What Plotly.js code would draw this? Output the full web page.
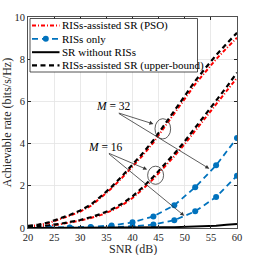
<!DOCTYPE html>
<html>
<head>
<meta charset="utf-8">
<script src="https://cdn.plot.ly/plotly-3.0.1.min.js"></script>
<style>html,body{margin:0;padding:0;background:#fff;}#chart{width:255px;height:255px;}</style>
</head>
<body>
<div id="chart"></div>
<script>
// SNR grids (dB)
var snr = [20,22,24,26,28,30,32,34,36,38,40,42,44,46,48,50,52,54,56,58,60];
var snr4 = [20,24,28,32,36,40,44,48,52,56,60];

// RISs-assisted SR (PSO)
var psoM32 = [0.08,0.14,0.24,0.40,0.58,0.78,1.05,1.45,1.88,2.38,2.90,3.45,4.05,4.72,5.42,6.12,6.82,7.42,8.00,8.52,9.02];
var psoM16 = [0.04,0.07,0.11,0.17,0.25,0.35,0.47,0.62,0.82,1.08,1.42,1.85,2.33,2.85,3.40,3.98,4.60,5.22,5.85,6.48,7.12];
// RISs-assisted SR (upper-bound)
var ubM32 = [0.10,0.16,0.27,0.43,0.62,0.83,1.10,1.51,1.95,2.46,2.99,3.55,4.16,4.84,5.55,6.26,6.97,7.59,8.19,8.73,9.25];
var ubM16 = [0.05,0.08,0.13,0.19,0.28,0.38,0.51,0.67,0.88,1.15,1.50,1.94,2.43,2.96,3.52,4.11,4.74,5.38,6.03,6.68,7.36];
// RISs only
var risM32 = [0.00,0.01,0.02,0.05,0.12,0.27,0.55,1.08,1.93,2.97,4.27];
var risM16 = [0.00,0.005,0.01,0.02,0.04,0.08,0.16,0.37,0.79,1.47,2.48];
// SR without RISs
var noRIS = [0,0,0,0,0,0,0,0,0.005,0.008,0.01,0.015,0.02,0.03,0.04,0.05,0.07,0.09,0.11,0.15,0.19];

var names = ['RISs-assisted SR (PSO)','RISs only','SR without RISs','RISs-assisted SR (upper-bound)'];
var xTitle = 'SNR (dB)', yTitle = 'Achievable rate (bits/s/Hz)';

var RED = '#ff0000', BLUE = '#0072bd', BLK = '#000000';
var serif = 'Liberation Serif, Times New Roman, serif';
var DASHDOT = '4px,2px,1px,2px', BDASH = '6px,4px', KDASH = '5px,3.5px';

var traces = [
  {x: snr, y: psoM32, mode:'lines', name: names[0], line:{color:RED, width:2, dash:DASHDOT}},
  {x: snr, y: psoM16, mode:'lines', name: names[0], line:{color:RED, width:2, dash:DASHDOT}},
  {x: snr4, y: risM32, mode:'lines+markers', name: names[1], line:{color:BLUE, width:1.8, dash:BDASH}, marker:{color:BLUE, size:6}},
  {x: snr4, y: risM16, mode:'lines+markers', name: names[1], line:{color:BLUE, width:1.8, dash:BDASH}, marker:{color:BLUE, size:6}},
  {x: snr, y: noRIS, mode:'lines', name: names[2], line:{color:BLK, width:2}},
  {x: snr, y: ubM32, mode:'lines', name: names[3], line:{color:BLK, width:2.2, dash:KDASH}},
  {x: snr, y: ubM16, mode:'lines', name: names[3], line:{color:BLK, width:2.2, dash:KDASH}}
];

// compact legend box (drawn as paper-referenced shapes + text)
var PL = 28, PW = 209, PT = 17, PH = 211;           // plot-area pixel frame
function px(x){ return (x - PL) / PW; }
function py(y){ return (PT + PH - y) / PH; }
var legRows = [25.5, 38.8, 52.2, 65.4];
var legStyles = [
  {color:RED, width:2, dash:DASHDOT},
  {color:BLUE, width:1.8, dash:BDASH},
  {color:BLK, width:2, dash:'solid'},
  {color:BLK, width:2.2, dash:KDASH}
];
var legShapes = [{type:'rect', xref:'paper', yref:'paper', x0:px(30), x1:px(197.5), y0:py(72), y1:py(18.5),
                  fillcolor:'#fff', line:{color:'#262626', width:0.8}, layer:'above'}];
var legAnn = [];
for (var i = 0; i < names.length; i++) {
  legShapes.push({type:'line', xref:'paper', yref:'paper', x0:px(32), x1:px(59.5), y0:py(legRows[i]), y1:py(legRows[i]),
                  line:legStyles[i], layer:'above'});
  legAnn.push({xref:'paper', yref:'paper', x:px(59.5), y:py(legRows[i]), xanchor:'left', yanchor:'middle',
               text:names[i], showarrow:false, font:{family:serif, size:11, color:'#000'}});
}
legShapes.push({type:'circle', xref:'paper', yref:'paper', x0:px(42.8), x1:px(48.8), y0:py(legRows[1]+3), y1:py(legRows[1]-3),
                fillcolor:BLUE, line:{color:BLUE, width:0}, layer:'above'});

var arrowStyle = {showarrow:true, arrowhead:2, arrowsize:1, arrowwidth:0.8, arrowcolor:'#333', axref:'x', ayref:'y', text:'', standoff:0, startstandoff:0};
function arrow(hx, hy, tx, ty){ return Object.assign({x:hx, y:hy, ax:tx, ay:ty, xref:'x', yref:'y'}, arrowStyle); }

var layout = {
  width:255, height:255,
  margin:{l:28, r:18, t:17, b:27},
  paper_bgcolor:'#fff', plot_bgcolor:'#fff',
  font:{family:serif, size:10, color:'#262626'},
  showlegend:false,
  xaxis:{range:[20,60], dtick:5, tick0:20, showgrid:true, gridcolor:'#e4e4e4', gridwidth:0.8,
         showline:true, linecolor:'#262626', linewidth:0.8, mirror:'ticks', ticks:'inside', ticklen:3, tickcolor:'#262626',
         zeroline:false, tickfont:{family:serif, size:10.5}, automargin:false},
  yaxis:{range:[0,10], dtick:2, tick0:0, showgrid:true, gridcolor:'#e4e4e4', gridwidth:0.8,
         showline:true, linecolor:'#262626', linewidth:0.8, mirror:'ticks', ticks:'inside', ticklen:3, tickcolor:'#262626',
         zeroline:false, tickfont:{family:serif, size:10.5},
         title:{text:yTitle, font:{family:serif, size:12}, standoff:4}},
  shapes:[
    {type:'circle', xref:'x', yref:'y', x0:44.3, x1:47.3, y0:4.22, y1:5.18, line:{color:'#333', width:0.8}},
    {type:'circle', xref:'x', yref:'y', x0:42.9, x1:45.95, y0:2.07, y1:2.93, line:{color:'#333', width:0.8}}
  ].concat(legShapes),
  annotations:[
    {xref:'paper', yref:'paper', x:0.5, y:py(249.5), xanchor:'center', yanchor:'middle', text:xTitle, showarrow:false,
     borderpad:0, font:{family:serif, size:12, color:'#262626'}},
    {x:36.3, y:5.8, xref:'x', yref:'y', text:'<i>M</i> = 32', showarrow:false, font:{family:serif, size:11.5, color:'#000'}},
    {x:34.8, y:3.85, xref:'x', yref:'y', text:'<i>M</i> = 16', showarrow:false, font:{family:serif, size:11.5, color:'#000'}},
    arrow(44.0, 4.93, 37.1, 5.47),
    arrow(54.7, 2.81, 37.1, 5.47),
    arrow(42.8, 2.77, 35.2, 3.57),
    arrow(49.9, 0.58, 35.2, 3.57)
  ].concat(legAnn)
};

Plotly.newPlot('chart', traces, layout, {staticPlot:true, displayModeBar:false});
</script>
</body>
</html>
